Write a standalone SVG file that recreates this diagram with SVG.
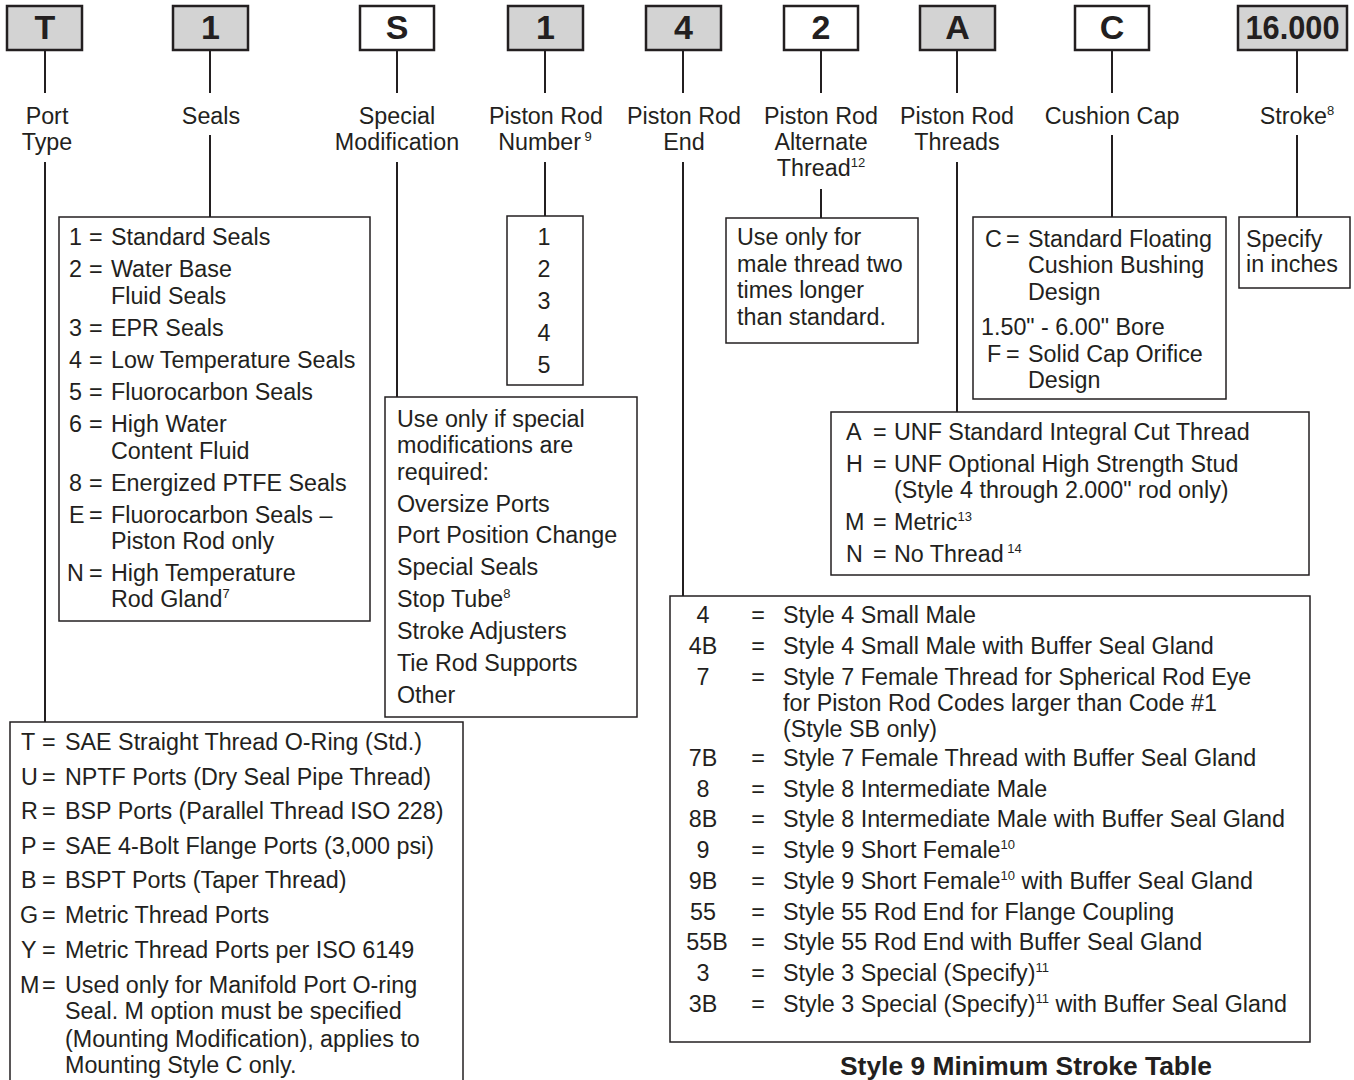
<svg xmlns="http://www.w3.org/2000/svg" width="1354" height="1080" viewBox="0 0 1354 1080">
<style>
text{font-family:"Liberation Sans",Arial,Helvetica,sans-serif;font-size:23.3px;fill:#231f20}
.c{text-anchor:middle}
.k{font-weight:bold;font-size:34px;text-anchor:middle}
.h{font-weight:bold;font-size:25px;text-anchor:middle}
.s{font-size:13px}
.box{fill:#fff;stroke:#231f20;stroke-width:1.5}
.key{fill:#fff;stroke:#231f20;stroke-width:2.5}
.g{fill:#d3d3d3}
.ln{stroke:#231f20;stroke-width:2;fill:none}
</style>
<rect width="1354" height="1080" fill="#fff"/>

<g id="connectors">
<line class="ln" x1="45" y1="50" x2="45" y2="93"/>
<line class="ln" x1="210" y1="50" x2="210" y2="93"/>
<line class="ln" x1="397" y1="50" x2="397" y2="93"/>
<line class="ln" x1="545" y1="50" x2="545" y2="93"/>
<line class="ln" x1="683" y1="50" x2="683" y2="93"/>
<line class="ln" x1="821" y1="50" x2="821" y2="93"/>
<line class="ln" x1="957" y1="50" x2="957" y2="93"/>
<line class="ln" x1="1112" y1="50" x2="1112" y2="93"/>
<line class="ln" x1="1297" y1="50" x2="1297" y2="93"/>
<line class="ln" x1="45" y1="162" x2="45" y2="729"/>
<line class="ln" x1="210" y1="135" x2="210" y2="217"/>
<line class="ln" x1="397" y1="162" x2="397" y2="397"/>
<line class="ln" x1="545" y1="162" x2="545" y2="216"/>
<line class="ln" x1="683" y1="162" x2="683" y2="596"/>
<line class="ln" x1="821" y1="189" x2="821" y2="218"/>
<line class="ln" x1="957" y1="162" x2="957" y2="412"/>
<line class="ln" x1="1112" y1="135" x2="1112" y2="217"/>
<line class="ln" x1="1297" y1="135" x2="1297" y2="217"/>
</g>

<g id="key-T"><rect class="key g" x="7" y="6" width="75" height="44"/><text class="k" x="45" y="39">T</text></g>
<g id="key-1a"><rect class="key g" x="173" y="6" width="75" height="44"/><text class="k" x="210.5" y="39">1</text></g>
<g id="key-S"><rect class="key" x="360" y="6" width="74" height="44"/><text class="k" x="397" y="39">S</text></g>
<g id="key-1b"><rect class="key g" x="508" y="6" width="75" height="44"/><text class="k" x="545.5" y="39">1</text></g>
<g id="key-4"><rect class="key g" x="646" y="6" width="75" height="44"/><text class="k" x="683.5" y="39">4</text></g>
<g id="key-2"><rect class="key" x="784" y="6" width="74" height="44"/><text class="k" x="821" y="39">2</text></g>
<g id="key-A"><rect class="key g" x="920" y="6" width="75" height="44"/><text class="k" x="957.5" y="39">A</text></g>
<g id="key-C"><rect class="key" x="1075" y="6" width="74" height="44"/><text class="k" x="1112" y="39">C</text></g>
<g id="key-stroke"><rect class="key g" x="1238" y="6" width="109" height="44"/><text class="k" x="1292.5" y="39" textLength="94" lengthAdjust="spacingAndGlyphs">16.000</text></g>

<g id="label-port"><text class="c" x="47" y="124">Port</text><text class="c" x="47" y="150">Type</text></g>
<g id="label-seals"><text class="c" x="211" y="124">Seals</text></g>
<g id="label-special"><text class="c" x="397" y="124">Special</text><text class="c" x="397" y="150">Modification</text></g>
<g id="label-number"><text class="c" x="546" y="124">Piston Rod</text><text class="c" x="545" y="150">Number<tspan class="s" dy="-9"> 9</tspan></text></g>
<g id="label-end"><text class="c" x="684" y="124">Piston Rod</text><text class="c" x="684" y="150">End</text></g>
<g id="label-alt"><text class="c" x="821" y="124">Piston Rod</text><text class="c" x="821" y="150">Alternate</text><text class="c" x="821" y="176">Thread<tspan class="s" dy="-9">12</tspan></text></g>
<g id="label-threads"><text class="c" x="957" y="124">Piston Rod</text><text class="c" x="957" y="150">Threads</text></g>
<g id="label-cushion"><text class="c" x="1112" y="124">Cushion Cap</text></g>
<g id="label-stroke"><text class="c" x="1297" y="124">Stroke<tspan class="s" dy="-9">8</tspan></text></g>

<g id="seals-box">
<rect class="box" x="59" y="217" width="311" height="404"/>
<text x="69" y="245">1</text><text x="89" y="245">=</text><text x="111" y="245">Standard Seals</text>
<text x="69" y="277">2</text><text x="89" y="277">=</text><text x="111" y="277">Water Base</text>
<text x="111" y="304">Fluid Seals</text>
<text x="69" y="336">3</text><text x="89" y="336">=</text><text x="111" y="336">EPR Seals</text>
<text x="69" y="368">4</text><text x="89" y="368">=</text><text x="111" y="368">Low Temperature Seals</text>
<text x="69" y="400">5</text><text x="89" y="400">=</text><text x="111" y="400">Fluorocarbon Seals</text>
<text x="69" y="432">6</text><text x="89" y="432">=</text><text x="111" y="432">High Water</text>
<text x="111" y="459">Content Fluid</text>
<text x="69" y="491">8</text><text x="89" y="491">=</text><text x="111" y="491">Energized PTFE Seals</text>
<text x="69" y="523">E</text><text x="89" y="523">=</text><text x="111" y="523">Fluorocarbon Seals –</text>
<text x="111" y="549">Piston Rod only</text>
<text x="67" y="581">N</text><text x="89" y="581">=</text><text x="111" y="581">High Temperature</text>
<text x="111" y="607">Rod Gland<tspan class="s" dy="-9">7</tspan></text>
</g>

<g id="number-box">
<rect class="box" x="507" y="216" width="76" height="169"/>
<text class="c" x="544" y="245">1</text>
<text class="c" x="544" y="277">2</text>
<text class="c" x="544" y="309">3</text>
<text class="c" x="544" y="341">4</text>
<text class="c" x="544" y="373">5</text>
</g>

<g id="special-box">
<rect class="box" x="385" y="397" width="252" height="320"/>
<text x="397" y="427">Use only if special</text>
<text x="397" y="453">modifications are</text>
<text x="397" y="480">required:</text>
<text x="397" y="512">Oversize Ports</text>
<text x="397" y="543">Port Position Change</text>
<text x="397" y="575">Special Seals</text>
<text x="397" y="607">Stop Tube<tspan class="s" dy="-9">8</tspan></text>
<text x="397" y="639">Stroke Adjusters</text>
<text x="397" y="671">Tie Rod Supports</text>
<text x="397" y="703">Other</text>
</g>

<g id="alt-box">
<rect class="box" x="726" y="218" width="192" height="125"/>
<text x="737" y="245">Use only for</text>
<text x="737" y="272">male thread two</text>
<text x="737" y="298">times longer</text>
<text x="737" y="325">than standard.</text>
</g>

<g id="cushion-box">
<rect class="box" x="973" y="217" width="253" height="182"/>
<text x="985" y="247">C</text><text x="1006" y="247">=</text><text x="1028" y="247">Standard Floating</text>
<text x="1028" y="273">Cushion Bushing</text>
<text x="1028" y="300">Design</text>
<text x="981" y="335">1.50" - 6.00" Bore</text>
<text x="987" y="362">F</text><text x="1006" y="362">=</text><text x="1028" y="362">Solid Cap Orifice</text>
<text x="1028" y="388">Design</text>
</g>

<g id="specify-box">
<rect class="box" x="1239" y="217" width="111" height="71"/>
<text x="1246" y="247">Specify</text>
<text x="1246" y="272">in inches</text>
</g>

<g id="threads-box">
<rect class="box" x="831" y="412" width="478" height="163"/>
<text x="846" y="440">A</text><text x="873" y="440">=</text><text x="894" y="440">UNF Standard Integral Cut Thread</text>
<text x="846" y="472">H</text><text x="873" y="472">=</text><text x="894" y="472">UNF Optional High Strength Stud</text>
<text x="894" y="498">(Style 4 through 2.000" rod only)</text>
<text x="845" y="530">M</text><text x="873" y="530">=</text><text x="894" y="530">Metric<tspan class="s" dy="-9">13</tspan></text>
<text x="846" y="562">N</text><text x="873" y="562">=</text><text x="894" y="562">No Thread<tspan class="s" dy="-9"> 14</tspan></text>
</g>

<g id="rodend-box">
<rect class="box" x="670" y="596" width="640" height="446"/>
<text class="c" x="703" y="623">4</text><text class="c" x="758" y="623">=</text><text x="783" y="623">Style 4 Small Male</text>
<text class="c" x="703" y="654">4B</text><text class="c" x="758" y="654">=</text><text x="783" y="654">Style 4 Small Male with Buffer Seal Gland</text>
<text class="c" x="703" y="685">7</text><text class="c" x="758" y="685">=</text><text x="783" y="685">Style 7 Female Thread for Spherical Rod Eye</text>
<text x="783" y="711">for Piston Rod Codes larger than Code #1</text>
<text x="783" y="737">(Style SB only)</text>
<text class="c" x="703" y="766">7B</text><text class="c" x="758" y="766">=</text><text x="783" y="766">Style 7 Female Thread with Buffer Seal Gland</text>
<text class="c" x="703" y="797">8</text><text class="c" x="758" y="797">=</text><text x="783" y="797">Style 8 Intermediate Male</text>
<text class="c" x="703" y="827">8B</text><text class="c" x="758" y="827">=</text><text x="783" y="827">Style 8 Intermediate Male with Buffer Seal Gland</text>
<text class="c" x="703" y="858">9</text><text class="c" x="758" y="858">=</text><text x="783" y="858">Style 9 Short Female<tspan class="s" dy="-9">10</tspan></text>
<text class="c" x="703" y="889">9B</text><text class="c" x="758" y="889">=</text><text x="783" y="889">Style 9 Short Female<tspan class="s" dy="-9">10</tspan><tspan dy="9"> with Buffer Seal Gland</tspan></text>
<text class="c" x="703" y="920">55</text><text class="c" x="758" y="920">=</text><text x="783" y="920">Style 55 Rod End for Flange Coupling</text>
<text class="c" x="707" y="950">55B</text><text class="c" x="758" y="950">=</text><text x="783" y="950">Style 55 Rod End with Buffer Seal Gland</text>
<text class="c" x="703" y="981">3</text><text class="c" x="758" y="981">=</text><text x="783" y="981">Style 3 Special (Specify)<tspan class="s" dy="-9">11</tspan></text>
<text class="c" x="703" y="1012">3B</text><text class="c" x="758" y="1012">=</text><text x="783" y="1012">Style 3 Special (Specify)<tspan class="s" dy="-9">11</tspan><tspan dy="9"> with Buffer Seal Gland</tspan></text>
</g>

<g id="port-box">
<rect class="box" x="10" y="722" width="453" height="370"/>
<text x="21" y="750">T</text><text x="42" y="750">=</text><text x="65" y="750">SAE Straight Thread O-Ring (Std.)</text>
<text x="21" y="785">U</text><text x="42" y="785">=</text><text x="65" y="785">NPTF Ports (Dry Seal Pipe Thread)</text>
<text x="21" y="819">R</text><text x="42" y="819">=</text><text x="65" y="819">BSP Ports (Parallel Thread ISO 228)</text>
<text x="21" y="854">P</text><text x="42" y="854">=</text><text x="65" y="854">SAE 4-Bolt Flange Ports (3,000 psi)</text>
<text x="21" y="888">B</text><text x="42" y="888">=</text><text x="65" y="888">BSPT Ports (Taper Thread)</text>
<text x="20" y="923">G</text><text x="42" y="923">=</text><text x="65" y="923">Metric Thread Ports</text>
<text x="21" y="958">Y</text><text x="42" y="958">=</text><text x="65" y="958">Metric Thread Ports per ISO 6149</text>
<text x="20" y="993">M</text><text x="42" y="993">=</text><text x="65" y="993">Used only for Manifold Port O-ring</text>
<text x="65" y="1019">Seal. M option must be specified</text>
<text x="65" y="1047">(Mounting Modification), applies to</text>
<text x="65" y="1073">Mounting Style C only.</text>
</g>

<g id="title"><text class="h" x="1026" y="1075" textLength="372" lengthAdjust="spacingAndGlyphs">Style 9 Minimum Stroke Table</text></g>
</svg>
